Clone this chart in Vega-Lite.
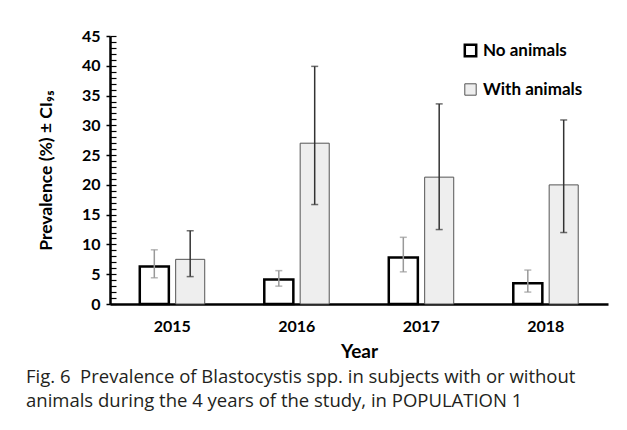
{
  "$schema": "https://vega.github.io/schema/vega-lite/v6.json",
  "width": 498,
  "height": 268,
  "autosize": {"type": "none"},
  "padding": {"left": 110, "top": 36, "right": 19, "bottom": 126},
  "background": "white",
  "config": {"view": {"stroke": null}, "font": "Lato"},
  "title": {
    "text": ["Fig. 6\u00a0\u00a0Prevalence of Blastocystis spp. in subjects with or without", "animals during the 4 years of the study, in POPULATION 1"],
    "orient": "bottom",
    "anchor": "start",
    "frame": "group",
    "dx": -84,
    "offset": 7,
    "font": "Open Sans",
    "fontSize": 18.5,
    "fontWeight": "normal",
    "color": "#231f20",
    "lineHeight": 24
  },
  "data": {
    "values": [
      {"year": "2015", "group": "No animals", "value": 6.3, "lo": 4.4, "hi": 9.1},
      {"year": "2015", "group": "With animals", "value": 7.5, "lo": 4.6, "hi": 12.3},
      {"year": "2016", "group": "No animals", "value": 4.1, "lo": 3.0, "hi": 5.6},
      {"year": "2016", "group": "With animals", "value": 27.0, "lo": 16.7, "hi": 39.9},
      {"year": "2017", "group": "No animals", "value": 7.8, "lo": 5.4, "hi": 11.2},
      {"year": "2017", "group": "With animals", "value": 21.3, "lo": 12.5, "hi": 33.6},
      {"year": "2018", "group": "No animals", "value": 3.5, "lo": 2.0, "hi": 5.7},
      {"year": "2018", "group": "With animals", "value": 20.0, "lo": 12.0, "hi": 30.9}
    ]
  },
  "encoding": {
    "x": {
      "field": "year", "type": "nominal",
      "scale": {"paddingInner": 0, "paddingOuter": 0},
      "axis": {
        "title": "Year", "labelAngle": 0, "ticks": false,
        "domainColor": "black", "domainWidth": 2.5,
        "labelFont": "Lato", "labelFontWeight": "bold", "labelFontSize": 16, "labelColor": "black",
        "labelPadding": 14,
        "titleFont": "Lato", "titleFontWeight": "bold", "titleFontSize": 19, "titleColor": "black",
        "titlePadding": 8
      }
    },
    "xOffset": {
      "field": "group", "type": "nominal",
      "scale": {"paddingInner": 0.19, "paddingOuter": 0.83}
    }
  },
  "layer": [
    {
      "mark": {"type": "bar"},
      "encoding": {
        "y": {
          "field": "value", "type": "quantitative",
          "scale": {"domain": [0, 45], "nice": false},
          "axis": {
            "title": "Prevalence (%) ± CI₉₅",
            "values": [0, 5, 10, 15, 20, 25, 30, 35, 40, 45],
            "grid": false,
            "domainColor": "black", "domainWidth": 2.5,
            "tickColor": "black", "tickWidth": 1.5, "tickSize": 4,
            "labelFont": "Lato", "labelFontWeight": "bold", "labelFontSize": 16, "labelColor": "black",
            "labelPadding": 6,
            "titleFont": "Lato", "titleFontWeight": "bold", "titleFontSize": 17.5, "titleColor": "black",
            "titlePadding": 26
          }
        },
        "fill": {
          "field": "group", "type": "nominal",
          "scale": {"domain": ["No animals", "With animals"], "range": ["white", "#eeeeee"]},
          "legend": {
            "title": null,
            "orient": "none",
            "legendX": 352,
            "legendY": 6,
            "symbolType": "square",
            "symbolSize": 130,
            "symbolStrokeWidth": 2,
            "rowPadding": 18,
            "labelFont": "Lato", "labelFontWeight": "bold", "labelFontSize": 17, "labelColor": "black",
            "labelOffset": 4,
            "encode": {
              "symbols": {"update": {"strokeWidth": {"signal": "datum.value === 'No animals' ? 2.5 : 1"}}}
            }
          }
        },
        "stroke": {
          "field": "group", "type": "nominal",
          "scale": {"domain": ["No animals", "With animals"], "range": ["black", "#555555"]}
        },
        "strokeWidth": {
          "condition": {"test": "datum.group === 'No animals'", "value": 2.5},
          "value": 1
        }
      }
    },
    {
      "mark": {"type": "rule", "strokeWidth": 1.5},
      "encoding": {
        "y": {"field": "lo", "type": "quantitative", "axis": null},
        "y2": {"field": "hi"},
        "color": {
          "condition": {"test": "datum.group === 'No animals'", "value": "#999999"},
          "value": "#333333"
        }
      }
    },
    {
      "mark": {"type": "tick", "thickness": 1.5, "size": 7},
      "encoding": {
        "y": {"field": "lo", "type": "quantitative", "axis": null},
        "color": {
          "condition": {"test": "datum.group === 'No animals'", "value": "#999999"},
          "value": "#333333"
        }
      }
    },
    {
      "mark": {"type": "tick", "thickness": 1.5, "size": 7},
      "encoding": {
        "y": {
          "field": "hi", "type": "quantitative",
          "axis": {
            "orient": "left",
            "title": null,
            "labels": false,
            "domain": false,
            "grid": false,
            "values": [0,1,2,3,4,5,6,7,8,9,10,11,12,13,14,15,16,17,18,19,20,21,22,23,24,25,26,27,28,29,30,31,32,33,34,35,36,37,38,39,40,41,42,43,44,45],
            "tickColor": "black", "tickWidth": 1.2, "tickSize": -6
          }
        },
        "color": {
          "condition": {"test": "datum.group === 'No animals'", "value": "#999999"},
          "value": "#333333"
        }
      }
    }
  ],
  "resolve": {"axis": {"y": "independent"}}
}
